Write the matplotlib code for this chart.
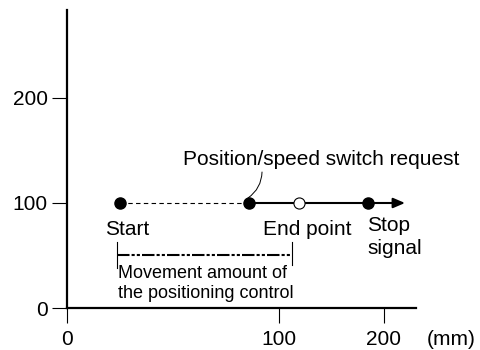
import matplotlib.pyplot as plt
import numpy as np

plt.rcParams['font.family'] = ['Liberation Sans', 'DejaVu Sans']

# positions along the stroke (mm) and speed level
x_ticks = [0, 100, 200]
y_ticks = [0, 100, 200]
level = 100
start_x = 25
switch_x = 86
end_x = 119
stop_x = 185
arrow_x = 220
move_from, move_to = 23.5, 112.5


# the diagram draws 0-100 mm twice as wide as 100-200 mm
def fwd(x):
    x = np.asarray(x, dtype=float)
    return np.where(x <= 100, 2.12 * x, 212 + 1.05 * (x - 100))


def inv(u):
    u = np.asarray(u, dtype=float)
    return np.where(u <= 212, u / 2.12, 100 + (u - 212) / 1.05)


fs = 15
fig = plt.figure(figsize=(4.81, 3.5), dpi=100)
ax = fig.add_axes([67 / 481, 42 / 350, 349 / 481, 298 / 350])
ax.set_xscale('function', functions=(fwd, inv))
ax.set_xlim(0, 230.5)
ax.set_ylim(0, 283.8)

for s in ['top', 'right']:
    ax.spines[s].set_visible(False)
for s in ['left', 'bottom']:
    ax.spines[s].set_linewidth(1.6)

ax.set_xticks(x_ticks)
ax.set_yticks(y_ticks)
ax.minorticks_off()
ax.tick_params(axis='both', direction='out', length=10.8, width=0.8, labelsize=fs)
ax.tick_params(axis='x', pad=5)
ax.tick_params(axis='y', pad=3)
ax.yaxis.get_major_ticks()[2].tick1line.set_color('#b0b0b0')

# dashed approach, then solid travel with arrow
ax.plot([start_x, switch_x], [level, level], color='black', lw=0.8, ls=(0, (4, 3)))
ax.plot([switch_x, stop_x], [level, level], color='black', lw=1.5)
ax.annotate('', xy=(arrow_x, level), xytext=(stop_x, level),
            arrowprops=dict(arrowstyle='-|>,head_length=0.7,head_width=0.3',
                            lw=1.5, color='black', shrinkA=0, shrinkB=0))

ax.plot([start_x, switch_x, stop_x], [level] * 3, 'o', color='black', ms=8, zorder=5)
ax.plot([end_x], [level], 'o', mfc='white', mec='black', mew=0.8, ms=8, zorder=5)

# movement amount dimension
ax.plot([move_from, move_from], [38, 63], color='black', lw=0.8)
ax.plot([move_to, move_to], [41, 63], color='black', lw=0.8)
ax.plot([move_from, move_to], [50.5, 50.5], color='black', lw=1.5, ls=(0, (6, 1, 1.5, 1, 1.5, 1)))

ax.text(28.3, 69.5, 'Start', fontsize=fs, ha='center', va='baseline')
ax.text(126.7, 69.5, 'End point', fontsize=fs, ha='center', va='baseline')
ax.text(184, 88, 'Stop\nsignal', fontsize=fs, ha='left', va='top', linespacing=1.3)
ax.text(24, 41, 'Movement amount of\nthe positioning control', fontsize=13,
        ha='left', va='top', linespacing=1.2)
ax.text(54.7, 136, 'Position/speed switch request', fontsize=fs, ha='left', va='baseline')
ax.annotate('', xy=(85.4, 104.8), xytext=(92, 129.5),
            arrowprops=dict(arrowstyle='-', lw=0.7, color='black',
                            connectionstyle='arc3,rad=-0.25', shrinkA=0, shrinkB=0))

fig.text(427 / 481, 1 - 345 / 350, '(mm)', fontsize=fs, va='baseline')

plt.savefig('out.png', dpi=100)
